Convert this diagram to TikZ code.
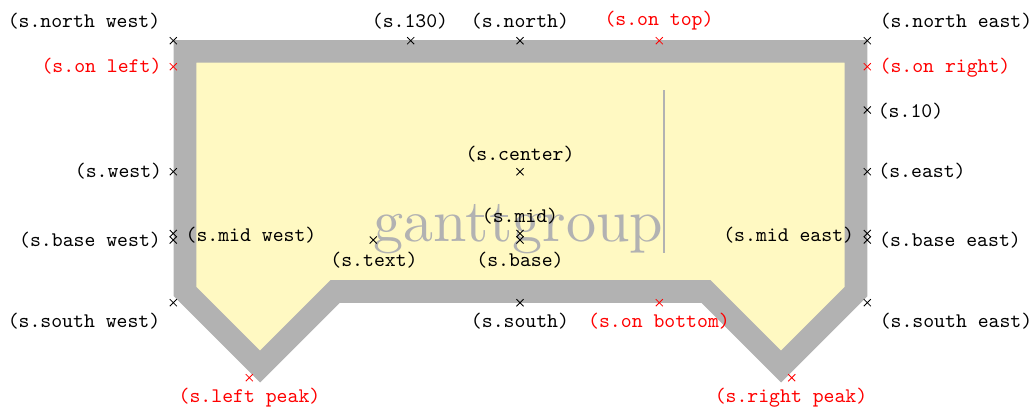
\documentclass[tikz,border=0pt]{standalone}
\usetikzlibrary{shapes.misc}
\definecolor{grpfill}{RGB}{255,249,194}
\begin{document}
\begin{tikzpicture}[x=0.482pt,y=-0.482pt,
  mk/.style={cross out,draw=#1,line width=0.4pt,minimum size=3.4pt,inner sep=0pt,outer sep=0pt},
  mk/.default=black,
  lb/.style={anchor=base,inner sep=0pt,font=\ttfamily,text=#1},
  lb/.default=black,
  border/.style={draw=black!30,line width=10.9pt,fill=grpfill,line join=miter}]
\useasboundingbox (0,0) rectangle (1035,407);
% group shape
\coordinate (p1) at (185,51.4);
\coordinate (p2) at (856,51.4);
\coordinate (p3) at (856,291.5);
\coordinate (p4) at (781,366.5);
\coordinate (p5) at (706,291.5);
\coordinate (p6) at (335,291.5);
\coordinate (p7) at (260,366.5);
\coordinate (p8) at (185,291.5);
\draw[border] (p1) -- (p2) -- (p3) -- (p4) -- (p5) -- (p6) -- (p7) -- (p8) -- cycle;
\node[anchor=base west,inner sep=0pt,text=black!30,font=\fontsize{10pt}{12pt}\selectfont] (big) at (373.3,241)
  {\scalebox{2.9}{ganttgroup\vrule width 0.35pt height 25.1pt depth 1.94pt}};
% anchor marks
\node[mk] (nw) at (173.3,40.7) {};
\node[mk] (a130) at (410.7,40.7) {};
\node[mk] (n) at (520,40.7) {};
\node[mk=red] (ontop) at (659.3,40.7) {};
\node[mk] (ne) at (867.3,40.7) {};
\node[mk=red] (onleft) at (173.3,66.7) {};
\node[mk=red] (onright) at (867.3,66.7) {};
\node[mk] (a10) at (867.3,110) {};
\node[mk] (w) at (173.3,171.7) {};
\node[mk] (e) at (867.3,171.7) {};
\node[mk] (c) at (520,171.7) {};
\node[mk] (midw) at (173.3,233.5) {};
\node[mk] (basew) at (173.3,240) {};
\node[mk] (mid) at (520,233.5) {};
\node[mk] (base) at (520,240) {};
\node[mk] (txt) at (373.3,240) {};
\node[mk] (mide) at (867.3,233.5) {};
\node[mk] (basee) at (867.3,240) {};
\node[mk] (sw) at (173.3,302.7) {};
\node[mk] (s) at (520,302.7) {};
\node[mk=red] (onbottom) at (659.3,302.7) {};
\node[mk] (se) at (867.3,302.7) {};
\node[mk=red] (lpeak) at (249.3,377.7) {};
\node[mk=red] (rpeak) at (791.7,377.7) {};
% labels
\node[lb] (Lnw) at (84,27.7) {(s.north west)};
\node[lb] (L130) at (410,27.7) {(s.130)};
\node[lb] (Ln) at (520,27.7) {(s.north)};
\node[lb=red] (Lontop) at (659,25.7) {(s.on top)};
\node[lb] (Lne) at (956,27.7) {(s.north east)};
\node[lb=red] (Lonleft) at (101.5,72.5) {(s.on left)};
\node[lb=red] (Lonright) at (945,72.3) {(s.on right)};
\node[lb] (L10) at (910.5,117.3) {(s.10)};
\node[lb] (Lw) at (118.5,177.7) {(s.west)};
\node[lb] (Le) at (922,177.7) {(s.east)};
\node[lb] (Lc) at (520,160.5) {(s.center)};
\node[lb] (Lmidw) at (251,241) {(s.mid west)};
\node[lb] (Lbasew) at (90,246.7) {(s.base west)};
\node[lb] (Lmid) at (520,222.7) {(s.mid)};
\node[lb] (Lbase) at (520,266) {(s.base)};
\node[lb] (Ltxt) at (374,266) {(s.text)};
\node[lb] (Lmide) at (788.7,241) {(s.mid east)};
\node[lb] (Lbasee) at (950,246.7) {(s.base east)};
\node[lb] (Lsw) at (84,327.7) {(s.south west)};
\node[lb] (Ls) at (520,327.7) {(s.south)};
\node[lb=red] (Lonbottom) at (659,327.7) {(s.on bottom)};
\node[lb] (Lse) at (956,327.7) {(s.south east)};
\node[lb=red] (Llpeak) at (249.5,402.7) {(s.left peak)};
\node[lb=red] (Lrpeak) at (791,402.7) {(s.right peak)};
\end{tikzpicture}
\end{document}
